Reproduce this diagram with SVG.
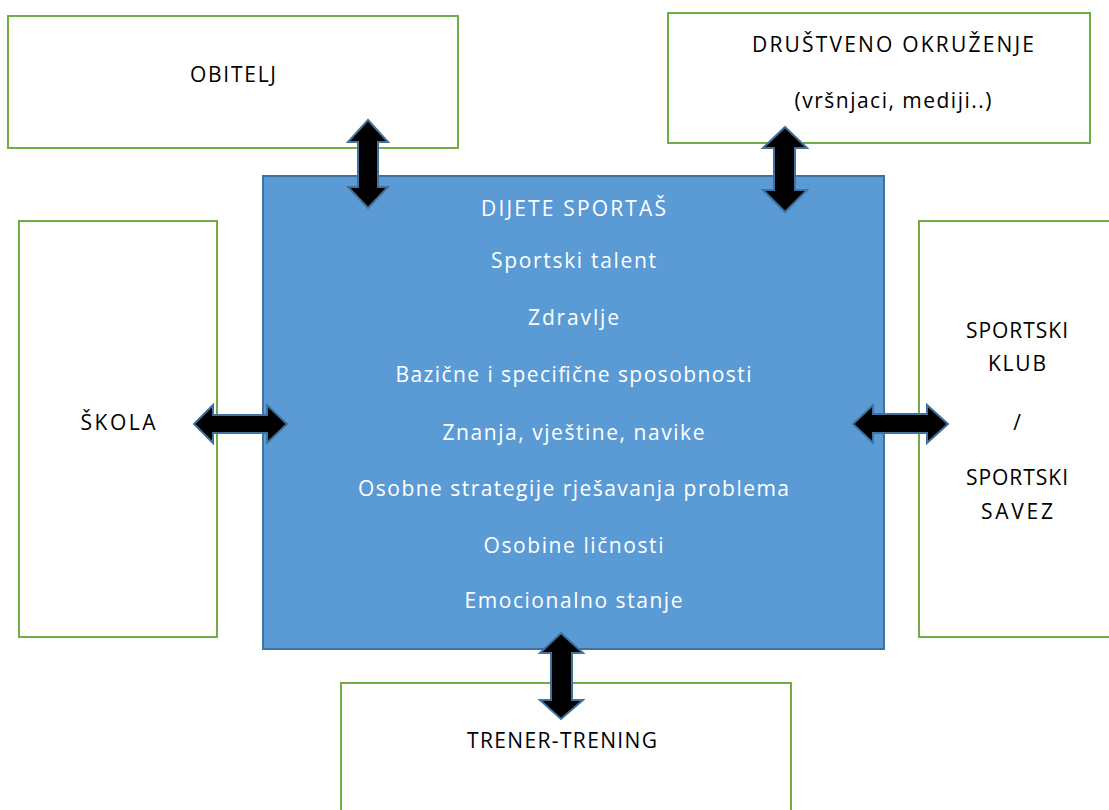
<svg xmlns="http://www.w3.org/2000/svg" width="1109" height="810" viewBox="0 0 1109 810">
<style>
.box{fill:#fff;stroke:#70ad47;stroke-width:2}
.main{fill:#5b9bd5;stroke:#41719c;stroke-width:2}
.arr{fill:#000;stroke:#41719c;stroke-width:2;stroke-linejoin:miter}
text{font-family:"Open Sans","Liberation Sans",sans-serif;font-size:21px;text-anchor:middle}
.bt{fill:#000}
.wt{fill:#fff}
</style>
<rect width="1109" height="810" fill="#fff"/>
<g id="obitelj"><rect class="box" x="8" y="16" width="450" height="132"/><text class="bt" x="233" y="82" textLength="86" lengthAdjust="spacing">OBITELJ</text></g>
<g id="drustveno"><rect class="box" x="668" y="13" width="422" height="130"/><text class="bt" x="893" y="52" textLength="282" lengthAdjust="spacing">DRUŠTVENO OKRUŽENJE</text><text class="bt" x="893" y="108" textLength="197" lengthAdjust="spacing">(vršnjaci, mediji..)</text></g>
<g id="skola"><rect class="box" x="19" y="221" width="198" height="416"/><text class="bt" x="118" y="430" textLength="75" lengthAdjust="spacing">ŠKOLA</text></g>
<g id="klub"><rect class="box" x="919" y="221" width="200" height="416"/><text class="bt" x="1017" y="338" textLength="102" lengthAdjust="spacing">SPORTSKI</text><text class="bt" x="1017" y="371" textLength="58" lengthAdjust="spacing">KLUB</text><text class="bt" x="1017" y="430">/</text><text class="bt" x="1017" y="485" textLength="102" lengthAdjust="spacing">SPORTSKI</text><text class="bt" x="1017" y="519" textLength="72" lengthAdjust="spacing">SAVEZ</text></g>
<g id="trener"><rect class="box" x="341" y="683" width="450" height="140"/><text class="bt" x="562" y="748" textLength="190" lengthAdjust="spacing">TRENER-TRENING</text></g>
<g id="dijete"><rect class="main" x="263" y="176" width="621" height="473"/>
<text class="wt" x="573.5" y="216" textLength="185" lengthAdjust="spacing">DIJETE SPORTAŠ</text>
<text class="wt" x="573.5" y="268" textLength="165" lengthAdjust="spacing">Sportski talent</text>
<text class="wt" x="573.5" y="325" textLength="91" lengthAdjust="spacing">Zdravlje</text>
<text class="wt" x="573.5" y="382" textLength="356" lengthAdjust="spacing">Bazične i specifične sposobnosti</text>
<text class="wt" x="573.5" y="440" textLength="262" lengthAdjust="spacing">Znanja, vještine, navike</text>
<text class="wt" x="573.5" y="496" textLength="431" lengthAdjust="spacing">Osobne strategije rješavanja problema</text>
<text class="wt" x="573.5" y="553" textLength="180" lengthAdjust="spacing">Osobine ličnosti</text>
<text class="wt" x="573.5" y="608" textLength="218" lengthAdjust="spacing">Emocionalno stanje</text>
</g>
<g id="connectors">
<polygon class="arr" points="368,120 388,142 378,142 378,187 388,187 368,208 348,187 358,187 358,142 348,142"/>
<polygon class="arr" points="785,127 807,148 795,148 795,190 807,190 785,212 763,190 774,190 774,148 763,148"/>
<polygon class="arr" points="194,424 213,405 213,415 267,415 267,405 287,424 267,443 267,433 213,433 213,443"/>
<polygon class="arr" points="853,424 873,405 873,414 927,414 927,405 948,424 927,443 927,433 873,433 873,443"/>
<polygon class="arr" points="561,633 583,653 572,653 572,700 583,700 561,719 540,700 551,700 551,653 540,653"/>
</g>
</svg>
